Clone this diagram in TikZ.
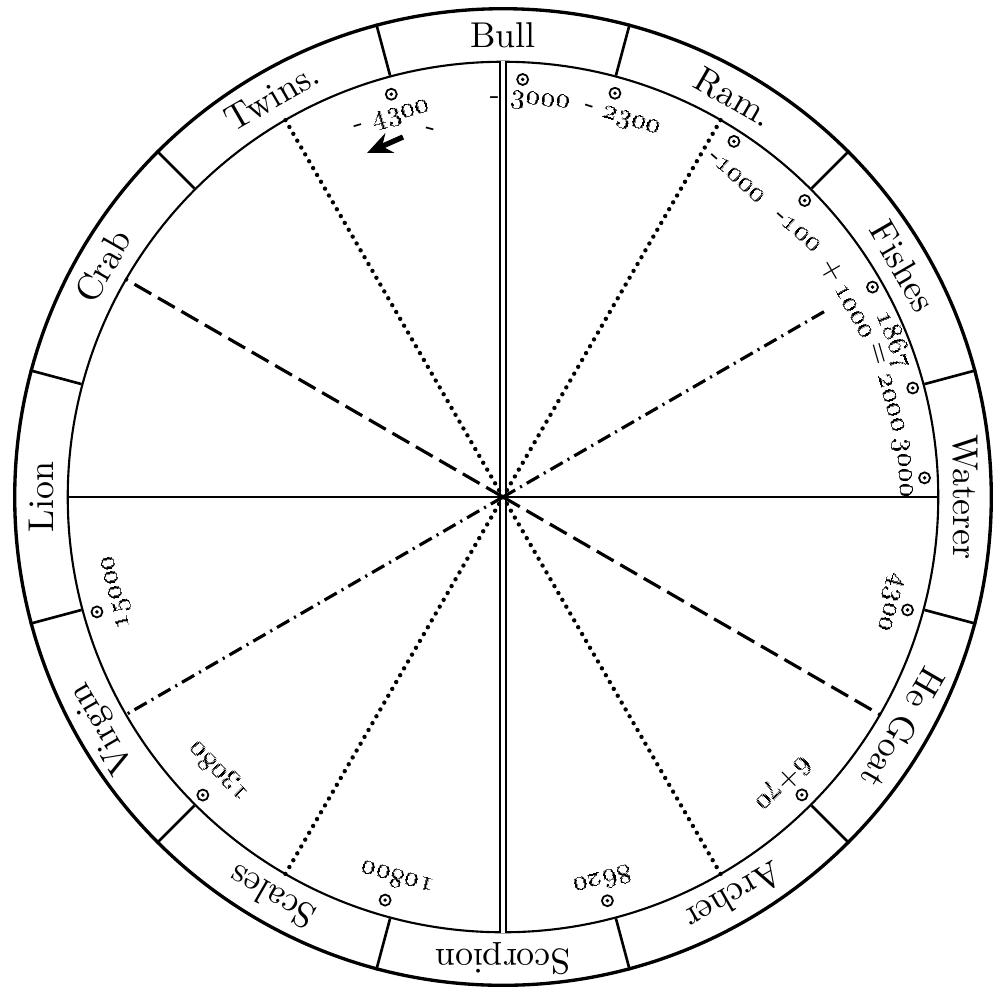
\documentclass[tikz,border=0pt]{standalone}
\usetikzlibrary{arrows.meta}
\newcommand{\osn}[1]{\oldstylenums{#1}}

\begin{document}
\begin{tikzpicture}[x=0.01cm, y=0.01cm,
  ring/.style={circle, draw, inner sep=0pt},
  sign/.style={font=\fontsize{10.2}{12}\selectfont, inner sep=0pt},
  yr/.style={font=\fontsize{7.8}{9}\selectfont, inner sep=0pt},
  sun/.style={circle, draw, line width=0.5pt, minimum size=0.11cm, inner sep=0pt,
              path picture={\fill (path picture bounding box.center) circle (0.55pt);}},
  dotl/.style={line width=1.25pt, line cap=round, dash pattern=on 0pt off 2.25pt},
  dashl/.style={line width=0.9pt, dash pattern=on 5.5pt off 2.2pt},
  dashdotl/.style={line width=0.9pt, dash pattern=on 4pt off 1.6pt on 0.6pt off 1.6pt},
]
\useasboundingbox (-503,-490) rectangle (492,497);

% the zodiac ring
\node[ring, line width=0.95pt, minimum size=9.76cm] (outer) at (0,0) {};
\node[ring, line width=0.6pt, minimum size=8.7cm] (inner) at (0,0) {};
\foreach \a in {15,45,...,345}
  \draw[line width=0.75pt] (inner.\a) -- (outer.\a);

\foreach \a/\t in {90/Bull, 120/Twins., 150/Crab, 180/Lion, 210/Virgin,
                   240/Scales, 270/Scorpion, 300/Archer, 330/He Goat,
                   0/Waterer, 30/Fishes, 60/Ram.}
  \node[sign, rotate=\a-90] (s\a) at (\a:462) {\t};

% lines through the centre
\draw[line width=0.8pt] (inner.180) -- (inner.0);
\draw[double, double distance=1.2pt, line width=0.55pt] (inner.90) -- (inner.270);
\foreach \a in {60,120,240,300}
  \draw[dotl] (inner.center) -- (inner.\a);
\draw[dashl] (inner.center) -- (inner.150);
\draw[dashl] (inner.center) -- (inner.330);
\draw[dashdotl] (inner.center) -- (inner.210);
\coordinate (m1000) at (30:372);
\draw[dashdotl] (inner.center) -- (m1000);

% positions of the sun
\foreach \a/\r [count=\i] in {105.5/418, 87.3/418, 74.5/419, 57/424, 44.5/423,
                              29.6/425, 14.9/424, 2.6/422, -15.6/420, -44.9/422,
                              -75.5/417, -106.3/420, -135.2/423, -164.2/422}
  \node[sun] (sun\i) at (\a:\r) {};

% years
\node[yr, rotate=16.3] (y1) at (106.3:395) {-\ \osn{4300}};
\node[yr, rotate=-15] (y1b) at (101.3:373) {-};
\node[yr] (y2a) at (91.2:397) {-};
\node[yr, rotate=-5.5] (y2) at (84.5:397) {\osn{3000}};
\node[yr, rotate=-17.5] (y3) at (72.5:396) {-\ \osn{2300}};
\node[yr, rotate=-41.5] (y4) at (48.5:395) {-\osn{1000}\ \ -\osn{100}};
\node[yr, rotate=-60] (y5) at (29.8:398) {+\,\osn{1000}};
\node[yr, rotate=-68] (y5b) at (21.9:421) {\osn{1867}};
\node[yr, rotate=-74] (y6) at (15.9:400) {=\ \osn{2000}};
\node[yr, rotate=-86] (y7) at (4.1:401) {\osn{3000}};
\node[yr, rotate=-105] (y8) at (-15.2:401) {\osn{4300}};
\node[yr, rotate=-135.7] (y9) at (-45.7:401) {\osn{6}+\osn{70}};
\node[yr, rotate=-165.4] (y10) at (-75.4:397) {\osn{8620}};
\node[yr, rotate=-195.5] (y11) at (-105.5:397) {\osn{10800}};
\node[yr, rotate=-226] (y12) at (-136:395) {\osn{13080}};
\node[yr, rotate=-256.2] (y13) at (-166.2:397) {\osn{15000}};

% pointer under -4300
\coordinate (ptrA) at (-100,360);
\coordinate (ptrB) at (-136,344);
\draw[line width=1.5pt, -{Stealth[length=7pt, width=6pt]}] (ptrA) -- (ptrB);
\end{tikzpicture}
\end{document}
